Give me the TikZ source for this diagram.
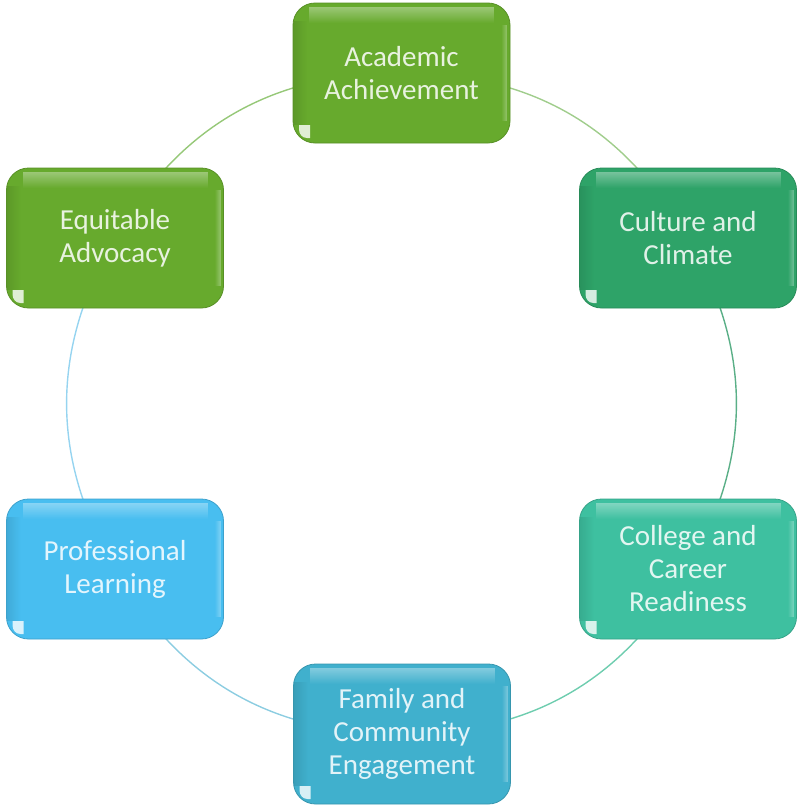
\documentclass[tikz,border=0pt]{standalone}
\usepackage{fontspec}
\setmainfont{Carlito}
\usetikzlibrary{backgrounds,fadings}
\definecolor{cAcad}{RGB}{103,170,45}
\definecolor{cCult}{RGB}{46,163,104}
\definecolor{cColl}{RGB}{62,192,160}
\definecolor{cFam}{RGB}{64,176,205}
\definecolor{cProf}{RGB}{72,190,240}
\definecolor{cEqui}{RGB}{103,170,45}
\definecolor{lAC}{RGB}{160,205,140}
\definecolor{lCC}{RGB}{90,175,135}
\definecolor{lCF}{RGB}{110,205,175}
\definecolor{lFP}{RGB}{140,205,225}
\definecolor{lPE}{RGB}{150,212,240}
\definecolor{lEA}{RGB}{150,200,120}
\tikzset{
  glossbox/.style={
    rectangle, rounded corners=22pt, minimum width=217pt, minimum height=140pt,
    inner sep=0pt, align=center, fill=#1, draw=#1!85!black, line width=0.8pt,
    text=white!85!#1,
    font=\fontsize{29}{33}\selectfont,
    path picture={
      \begin{scope}[sharp corners]
      \fill[white,opacity=0.35,path fading=south]
        ([xshift=16pt,yshift=-4pt]path picture bounding box.north west) rectangle
        ([xshift=-16pt,yshift=-20pt]path picture bounding box.north east);
      \fill[white,opacity=0.30,path fading=west]
        ([xshift=-9pt,yshift=-22pt]path picture bounding box.north east) rectangle
        ([xshift=-3pt,yshift=22pt]path picture bounding box.south east);
      \fill[black,opacity=0.10,path fading=east]
        ([yshift=-18pt]path picture bounding box.north west) rectangle
        ([xshift=14pt,yshift=18pt]path picture bounding box.south west);
      \fill[white,opacity=0.8]
        ([shift={(6pt,18pt)}]path picture bounding box.south west) --
        ([shift={(17pt,18pt)}]path picture bounding box.south west) --
        ([shift={(17pt,5pt)}]path picture bounding box.south west) --
        ([shift={(14pt,5pt)}]path picture bounding box.south west) .. controls
        ([shift={(9pt,5pt)}]path picture bounding box.south west) and
        ([shift={(6pt,9pt)}]path picture bounding box.south west) ..
        ([shift={(6pt,14pt)}]path picture bounding box.south west) -- cycle;
      \end{scope}
    }},
  ring/.style={line width=1.4pt, draw=#1}
}
\begin{document}
\begin{tikzpicture}[x=1pt,y=-1pt]
\useasboundingbox (0,0) rectangle (798,806);
\node[glossbox=cAcad] (acad) at (401.5,73) {Academic\\Achievement};
\node[glossbox=cCult] (cult) at (688,238) {Culture and\\Climate};
\node[glossbox=cColl] (coll) at (688,569) {College and\\Career\\Readiness};
\node[glossbox=cFam]  (fam)  at (402,734) {Family and\\Community\\Engagement};
\node[glossbox=cProf] (prof) at (115,569) {Professional\\Learning};
\node[glossbox=cEqui] (equi) at (115,238) {Equitable\\Advocacy};
\begin{scope}[on background layer]
\draw[ring=lAC] (acad.center) to[bend left=30] (cult.center);
\draw[ring=lCC] (cult.center) to[bend left=30] (coll.center);
\draw[ring=lCF] (coll.center) to[bend left=30] (fam.center);
\draw[ring=lFP] (fam.center) to[bend left=30] (prof.center);
\draw[ring=lPE] (prof.center) to[bend left=30] (equi.center);
\draw[ring=lEA] (equi.center) to[bend left=30] (acad.center);
\end{scope}
\end{tikzpicture}
\end{document}
